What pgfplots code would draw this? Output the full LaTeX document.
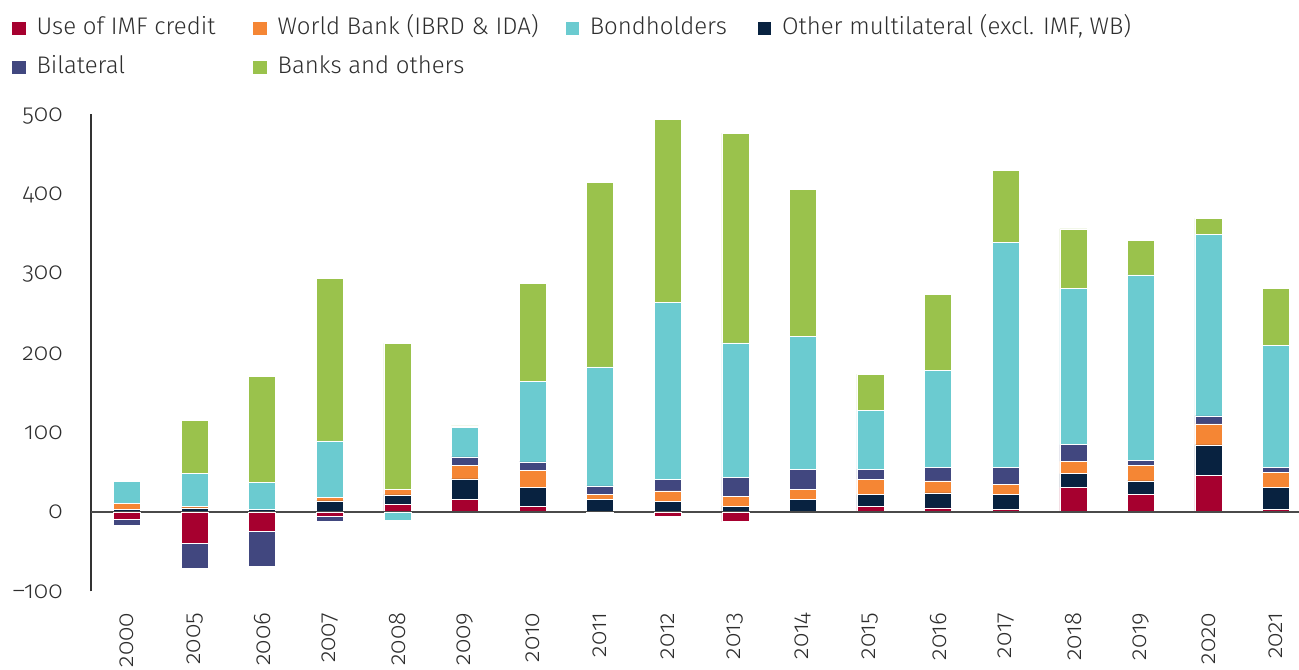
\documentclass[border=0pt]{standalone}
\usepackage{fontspec}
\setmainfont{Fira Sans}[UprightFont=* Light, Numbers=OldStyle, RawFeature=+onum]
\usepackage{pgfplots}
\usepackage{pgfplotstable}
\pgfplotsset{compat=1.18}
\definecolor{cimf}{HTML}{A6002F}
\definecolor{cwb}{HTML}{F58634}
\definecolor{cbond}{HTML}{6BCBD0}
\definecolor{coth}{HTML}{082240}
\definecolor{cbil}{HTML}{41477F}
\definecolor{cbank}{HTML}{9AC24C}
\definecolor{tcol}{HTML}{2E2E2E}
\definecolor{axcol}{HTML}{333333}
\definecolor{zcol}{HTML}{4A4A4A}

% positive parts
\pgfplotstableread{
x imf oth wb bil bond bank
0 0 3 8 0 28 0
1 0 5.4 2 0 41 67
2 0 3.4 0 0 34 134
3 0 14 4.7 0 71 205.5
4 9.7 12.1 6.8 0 0 184.3
5 16 26 17.3 10.5 37.1 2
6 7.6 23.1 22.3 10.5 101.9 123.4
7 0 16 6.7 10.5 150 233
8 0 13.9 13 14.8 223 231
9 0 7.6 12.6 24 169.2 265
10 1 15 13 25.3 167.5 185.6
11 7.2 15.2 19.3 12.6 74.1 45.8
12 5.4 18.9 15.2 17.3 121.6 96.8
13 3.8 18.9 12.6 21.5 283.7 90.4
14 31.2 17.2 15.7 21 197 75.4
15 22.3 17.2 19.8 6.3 233.6 43.3
16 46.3 38.6 26.5 10.1 229.4 19.8
17 3.8 27.4 19.3 6.3 154 71.1
}\postab

% negative parts
\pgfplotstableread{
x imf oth wb bil bond bank
0 -9.2 0 0 -7.2 0 -2.1
1 -39.5 0 0 -30.8 0 0
2 -24.4 0 0 -43.4 0 0
3 -5 0 0 -7.2 0 0
4 0 0 0 0 -9.7 0
5 0 0 0 0 0 0
6 0 0 0 0 0 0
7 -1 0 0 0 0 0
8 -5.9 0 0 0 0 0
9 -12.2 0 0 0 0 0
10 0 0 0 0 0 0
11 0 0 0 0 0 0
12 0 0 0 0 0 0
13 0 0 0 0 0 0
14 0 0 0 0 0 0
15 0 0 0 0 0 0
16 0 0 0 0 0 0
17 0 0 0 0 0 0
}\negtab

\pgfplotsset{
  base/.style={
    scale only axis, width=604pt, height=238.5pt,
    at={(45.5pt,-295.65pt)}, anchor=south west,
    xmin=-0.533, xmax=17.34, ymin=-100, ymax=502,
    ybar stacked, bar width=0.4,
  },
  seg/.style={fill=#1, draw=white, line width=0.25pt, forget plot},
  legsq/.style={fill=#1, draw=none,
    legend image code/.code={\fill[##1] (0pt,-3.3pt) rectangle (6.6pt,3.3pt);}},
}

\begin{document}
\begin{tikzpicture}
\begin{axis}[base,
  axis lines*=left,
  x axis line style={draw=none},
  y axis line style={draw=axcol, line width=0.55pt},
  xtick={0,...,17},
  xticklabels={2000,2005,2006,2007,2008,2009,2010,2011,2012,2013,2014,2015,2016,2017,2018,2019,2020,2021},
  ytick={-100,0,100,200,300,400,500},
  yticklabels={\textendash100,0,100,200,300,400,500},
  major tick length=0pt,
  tick label style={font=\fontsize{12}{14}\selectfont, text=tcol},
  xticklabel style={rotate=90, anchor=east, inner sep=0pt},
  xticklabel shift=10.5pt,
  yticklabel style={anchor=east, inner sep=0pt},
  yticklabel shift=14pt,
  legend columns=4,
  legend cell align=left,
  legend style={draw=none, fill=none, inner sep=0pt,
    at={(-0.0654,1.2045)}, anchor=north west,
    font=\fontsize{12}{14}\selectfont, text=tcol,
    nodes={inner sep=0pt, text height=8.6pt, text depth=2.6pt},
    row sep=8.3pt,
    /tikz/every odd column/.append style={column sep=5.5pt},
    /tikz/column 2/.style={column sep=19pt},
    /tikz/column 4/.style={column sep=13.5pt},
    /tikz/column 6/.style={column sep=15.5pt}},
]
\addplot[seg=cimf] table[x=x,y=imf]{\postab};
\addplot[seg=coth] table[x=x,y=oth]{\postab};
\addplot[seg=cwb] table[x=x,y=wb]{\postab};
\addplot[seg=cbil] table[x=x,y=bil]{\postab};
\addplot[seg=cbond] table[x=x,y=bond]{\postab};
\addplot[seg=cbank] table[x=x,y=bank]{\postab};

\addlegendimage{legsq=cimf}\addlegendentry{Use of IMF credit}
\addlegendimage{legsq=cwb}\addlegendentry{World Bank (IBRD \& IDA)}
\addlegendimage{legsq=cbond}\addlegendentry{Bondholders}
\addlegendimage{legsq=coth}\addlegendentry{Other multilateral (excl. IMF, WB)}
\addlegendimage{legsq=cbil}\addlegendentry{Bilateral}
\addlegendimage{legsq=cbank}\addlegendentry{Banks and others}
\end{axis}

\begin{axis}[base, hide axis]
\addplot[seg=cimf] table[x=x,y=imf]{\negtab};
\addplot[seg=coth] table[x=x,y=oth]{\negtab};
\addplot[seg=cwb] table[x=x,y=wb]{\negtab};
\addplot[seg=cbil] table[x=x,y=bil]{\negtab};
\addplot[seg=cbond] table[x=x,y=bond]{\negtab};
\addplot[seg=cbank] table[x=x,y=bank]{\negtab};
\draw[zcol, line width=0.7pt] (axis cs:-0.533,0) -- (axis cs:17.34,0);
\end{axis}
\pgfresetboundingbox
\path (0pt,0pt) rectangle (649.5pt,-334.5pt);
\end{tikzpicture}
\end{document}
